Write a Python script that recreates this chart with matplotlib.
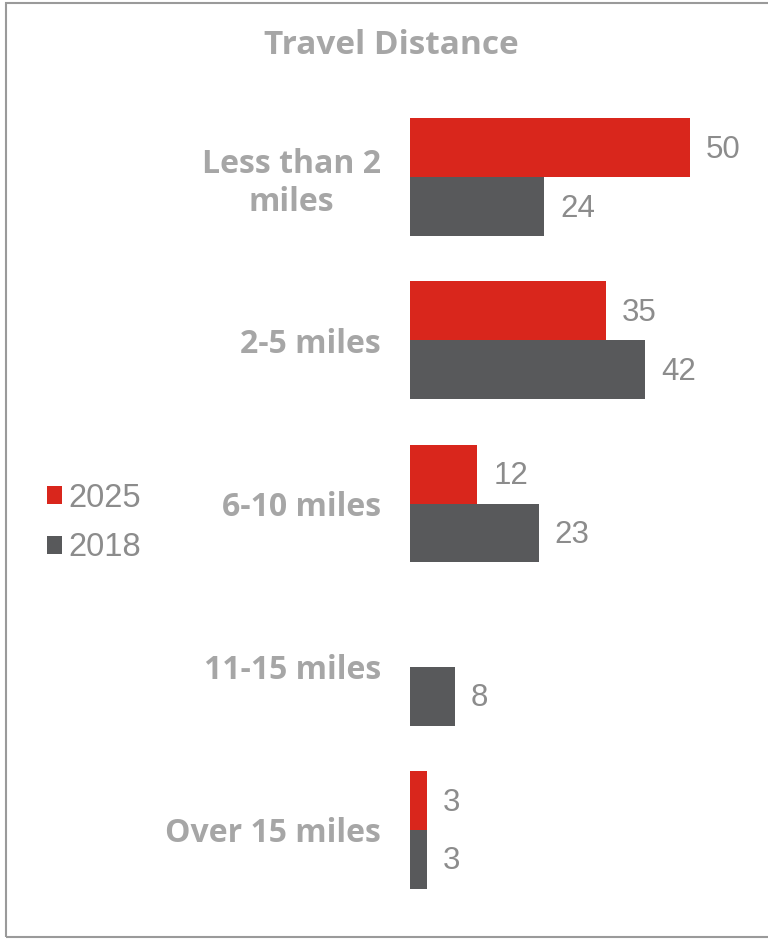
import matplotlib
matplotlib.use("Agg")
import matplotlib.pyplot as plt
from matplotlib.patches import Rectangle

categories = ["Less than 2\nmiles", "2-5 miles", "6-10 miles", "11-15 miles", "Over 15 miles"]
values_2025 = [50, 35, 12, 0, 3]
values_2018 = [24, 42, 23, 8, 3]
series_names = ["2025", "2018"]

RED = "#D9261C"
DARK = "#58595B"
LABEL_GREY = "#A6A6A6"
VALUE_GREY = "#8C8C8C"

W, H = 768, 940
fig = plt.figure(figsize=(W / 100, H / 100), dpi=100)
fig.patch.set_facecolor("white")

# outer frame
fig.patches.append(Rectangle((6 / W, 3 / H), 1.2, (937 - 3) / H,
                             transform=fig.transFigure, fill=False,
                             edgecolor="#9A9A9A", linewidth=1.5))

left_px, top_px, bottom_px = 410, 95.5, 911.5
ax = fig.add_axes([left_px / W, 1 - bottom_px / H, 1 - left_px / W, (bottom_px - top_px) / H])
ax.set_xlim(0, (W - left_px) / 5.6)
n = len(categories)
ax.set_ylim(n - 0.5, -0.5)

bh = 0.361
ys = list(range(n))
b25 = ax.barh([y - bh / 2 for y in ys], values_2025, height=bh, color=RED, label=series_names[0])
b18 = ax.barh([y + bh / 2 for y in ys], values_2018, height=bh, color=DARK, label=series_names[1])

for bars, vals in ((b25, values_2025), (b18, values_2018)):
    for rect, v in zip(bars, vals):
        if v == 0:
            continue
        ax.annotate(f"{v}", xy=(v, rect.get_y() + rect.get_height() / 2),
                    xytext=(11.5, -1.5), textcoords="offset points",
                    ha="left", va="center", fontsize=22.5, color=VALUE_GREY,
                    family="Liberation Sans")

ax.set_yticks(ys)
ax.set_yticklabels(categories, fontsize=23, fontweight="bold", color=LABEL_GREY,
                   family="Open Sans", linespacing=1.2, multialignment="center")
ax.tick_params(axis="y", length=0, pad=21)
ax.set_xticks([])
for s in ax.spines.values():
    s.set_visible(False)

fig.text(391 / W, 1 - 45 / H, "Travel Distance", ha="center", va="center",
         fontsize=24, fontweight="bold", color=LABEL_GREY, family="Open Sans")

leg = fig.legend(handles=[b25, b18], labels=series_names, loc="center left",
                 bbox_to_anchor=(47 / W, 1 - 523 / H), frameon=False, borderpad=0,
                 borderaxespad=0,
                 handlelength=0.46, handleheight=0.46, handletextpad=0.18,
                 labelspacing=0.58, prop={"family": "Liberation Sans", "size": 23.5},
                 labelcolor=VALUE_GREY)

fig.savefig("out.png", dpi=100)
